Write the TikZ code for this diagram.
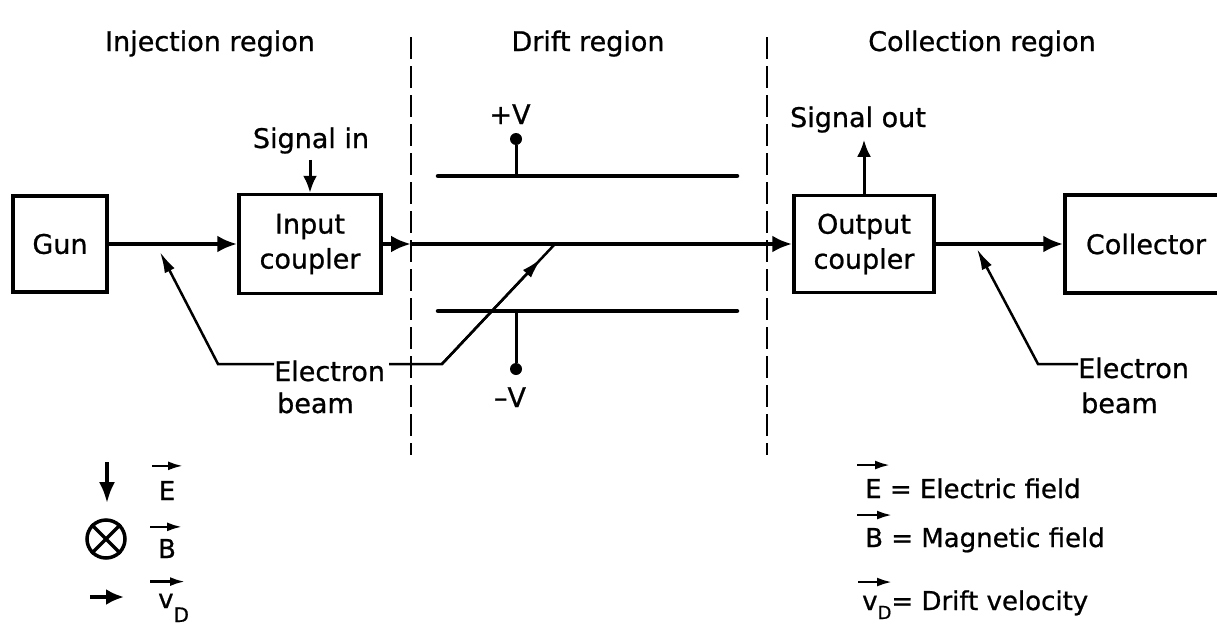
\documentclass[tikz,border=0pt]{standalone}
\usepackage{fontspec}
\setmainfont{DejaVu Sans}[FakeBold=0.8]
\usetikzlibrary{arrows.meta,calc}
\begin{document}
\begin{tikzpicture}[x=1pt,y=-1pt,
  every node/.style={font=\fontsize{27}{35}\selectfont, inner sep=0pt},
  box/.style={draw, line width=3.5pt, align=center},
  beam/.style={line width=4.5pt, -{Latex[length=20pt,width=17pt]}},
  divider/.style={line width=2.5pt, dash pattern=on 22pt off 7pt},
  plate/.style={line width=4.5pt, line cap=round},
  stem/.style={line width=3pt},
  pointer/.style={line width=2.5pt},
  ptip/.style={line width=2.5pt, -{Latex[length=21pt,width=11pt]}},
  sigarrow/.style={line width=3pt, -{Latex[length=17pt,width=14pt]}},
  legend/.style={font=\fontsize{26}{32}\selectfont},
  vec/.style={line width=2.5pt, -{Latex[length=15pt,width=9pt]}},
  term/.style={circle, fill, inner sep=0pt, minimum size=12pt}
]
\clip (0,0) rectangle (1217,629);
\fill[white] (0,0) rectangle (1217,629);

% region titles
\node[anchor=base] (tinj) at (210,51) {Injection region};
\node[anchor=base] (tdrift) at (588,51) {Drift region};
\node[anchor=base] (tcoll) at (982,51) {Collection region};

% dividers
\coordinate (d1t) at (411,37); \coordinate (d1b) at (411,455);
\coordinate (d2t) at (767,37); \coordinate (d2b) at (767,455);
\draw[divider] (d1t) -- (d1b);
\draw[divider] (d2t) -- (d2b);

% boxes
\node[box, minimum width=94pt, minimum height=96pt] (gun) at (60,244) {Gun};
\node[box, minimum width=142pt, minimum height=99pt] (inc) at (310,244) {Input\\coupler};
\node[box, minimum width=140pt, minimum height=97pt] (outc) at (864,244) {Output\\coupler};
\node[box, minimum width=162pt, minimum height=98pt] (coll) at (1146,244) {Collector};

% beam
\coordinate (d1beam) at (411,244);
\draw[beam] (gun.east) -- (inc.west);
\draw[beam] (inc.east) -- (d1beam);
\draw[beam] (d1beam) -- (outc.west);
\draw[beam] (outc.east) -- (coll.west);

% signals
\node[anchor=base] (sigin) at (311,148) {Signal in};
\draw[sigarrow, shorten <=6pt] (sigin.south -| inc.north) -- (inc.north);
\node[anchor=base] (sigout) at (858,127) {Signal out};
\draw[sigarrow, shorten >=7pt] (outc.north) -- (sigout.south -| outc.north);

% deflection plates
\coordinate (p1l) at (438,176); \coordinate (p1r) at (737,176);
\coordinate (p2l) at (438,311); \coordinate (p2r) at (737,311);
\draw[plate] (p1l) -- (p1r);
\draw[plate] (p2l) -- (p2r);
\node[term] (vp) at (516,139) {};
\node[term] (vm) at (516,369) {};
\draw[stem] (vp) -- (vp |- p1l);
\draw[stem] (vm) -- (vm |- p2l);
\node[anchor=base] (vplab) at (510,124) {+V};
\node[anchor=base] (vmlab) at (510,407) {–V};

% electron beam labels (left)
\node[anchor=base west] (eb1) at (274,381) {Electron};
\node[anchor=base west] (eb1b) at (277,413) {beam};
\coordinate (k1) at (218,364);
\coordinate (tip1) at (160,252);
\draw[ptip] (eb1.west |- k1) -- (k1) -- (tip1);
\coordinate (k2) at (442,364);
\coordinate (hit) at (555,244);
\draw[pointer] ([xshift=4pt]eb1.east |- k2) -- (k2) -- (hit);
\draw[ptip] (k2) -- ($(k2)!0.88!(hit)$);

% electron beam labels (right)
\node[anchor=base west] (eb2) at (1078,378) {Electron};
\node[anchor=base west] (eb2b) at (1081,413) {beam};
\coordinate (k3) at (1038,364);
\coordinate (tip3) at (977,249);
\draw[ptip] (eb2.west |- k3) -- (k3) -- (tip3);

% legend left
\coordinate (ea1) at (107,462); \coordinate (ea2) at (107,503);
\draw[line width=3.5pt, -{Latex[length=21pt,width=16pt]}] (ea1) -- (ea2);
\node[circle, draw, line width=3.5pt, minimum size=38pt] (ot) at (106,539) {};
\draw[line width=3.5pt] (ot.north west) -- (ot.south east);
\draw[line width=3.5pt] (ot.north east) -- (ot.south west);
\coordinate (va1) at (90,597); \coordinate (va2) at (124,597);
\draw[line width=3.5pt, -{Latex[length=18pt,width=16pt]}] (va1) -- (va2);

\node[legend, anchor=base] (lE) at (167,500) {E};
\draw[vec] ($(lE.north)+(-15,-15)$) -- ($(lE.north)+(16,-15)$);
\node[legend, anchor=base] (lB) at (167,558) {B};
\draw[vec] ($(lB.north)+(-17,-12)$) -- ($(lB.north)+(15,-12)$);
\node[legend, anchor=base west] (lv) at (158,608) {v\raisebox{-14pt}{\fontsize{20}{20}\selectfont D}};
\draw[vec] ($(lv.north west)+(-8,-12)$) -- ($(lv.north west)+(27,-12)$);

% legend right
\node[legend, anchor=base west] (rE) at (865,498) {E = Electric field};
\draw[vec] ($(rE.north west)+(-8,-13)$) -- ($(rE.north west)+(25,-13)$);
\node[legend, anchor=base west] (rB) at (865,547) {B = Magnetic field};
\draw[vec] ($(rB.north west)+(-8,-12)$) -- ($(rB.north west)+(27,-12)$);
\node[legend, anchor=base west] (rv) at (862,610) {v\raisebox{-9pt}{\fontsize{18}{18}\selectfont D}= Drift velocity};
\draw[vec] ($(rv.north west)+(-4,-8)$) -- ($(rv.north west)+(30,-8)$);
\end{tikzpicture}
\end{document}
